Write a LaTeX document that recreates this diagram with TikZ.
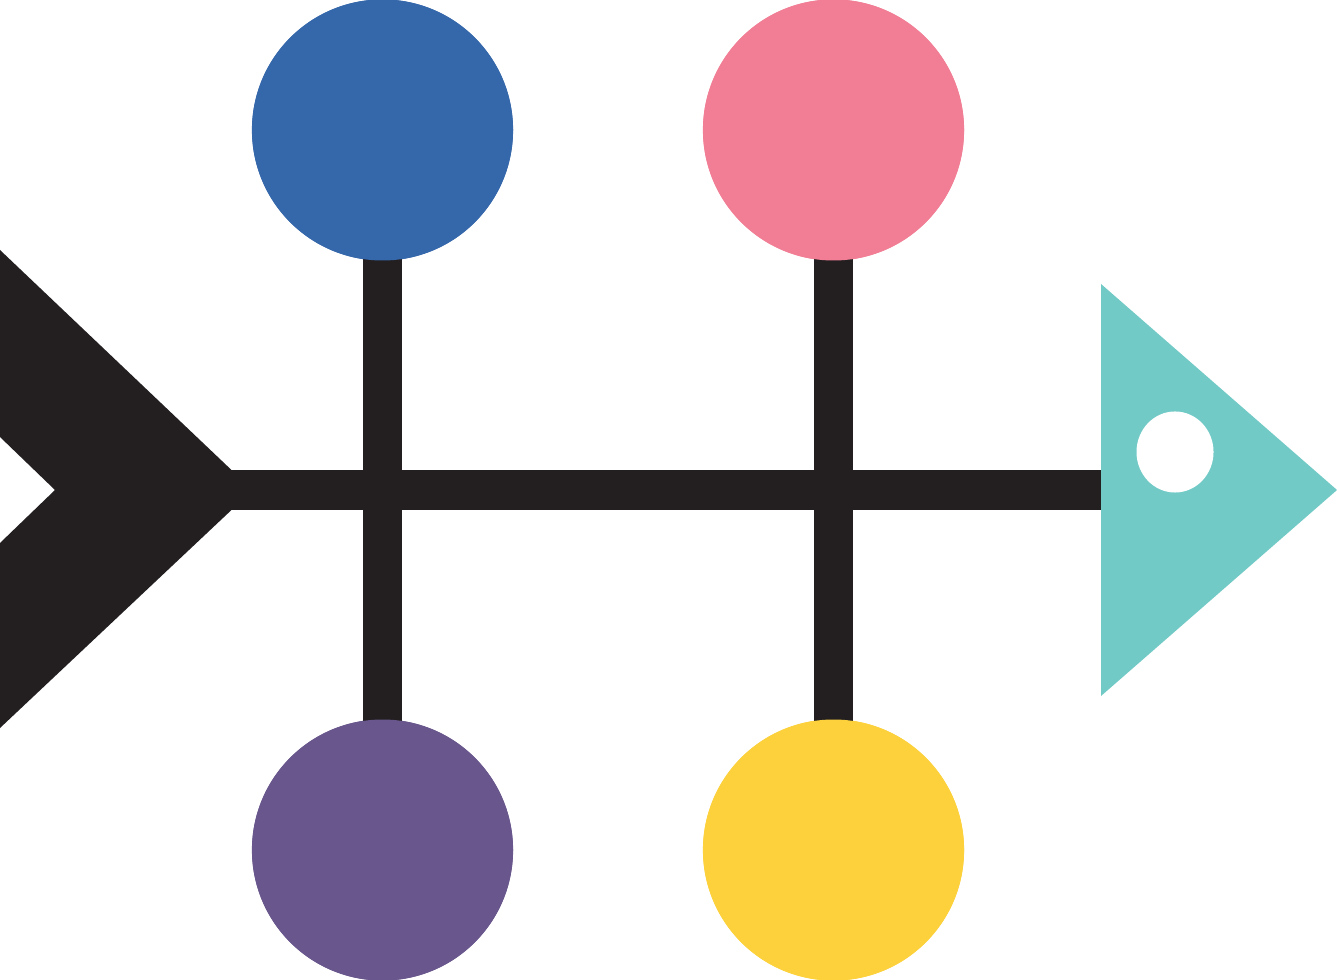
\documentclass[tikz,border=0pt]{standalone}
\usetikzlibrary{shapes.geometric}
\definecolor{bonecol}{HTML}{231F20}
\definecolor{bluec}{HTML}{3567AB}
\definecolor{pinkc}{HTML}{F27E95}
\definecolor{purplec}{HTML}{68568C}
\definecolor{yellowc}{HTML}{FCD13B}
\definecolor{tealc}{HTML}{72CAC7}
\tikzset{
  ball/.style={circle, minimum size=2.61cm, inner sep=0pt, draw=none},
  bone/.style={draw=bonecol, line width=0.39cm},
}
\begin{document}
\begin{tikzpicture}[x=0.01cm, y=-0.01cm]
\useasboundingbox[fill=white] (0,0) rectangle (1337,980);
% tail
\fill[bonecol] (0,250) -- (232,470.5) -- (232,509.5) -- (0,728) -- (0,543) -- (55,490) -- (0,437) -- cycle;
% spine
\coordinate (tail) at (230,490);
\node[ball, fill=bluec] (c1) at (382.5,130) {};
\node[ball, fill=pinkc] (c2) at (833.5,130) {};
\node[ball, fill=purplec] (c3) at (382.5,850) {};
\node[ball, fill=yellowc] (c4) at (833.5,850) {};
\coordinate (headbase) at (1101,490);
\draw[bone] (c1.center) -- (c3.center);
\draw[bone] (c2.center) -- (c4.center);
\fill[bluec] (c1) circle (130.5);
\fill[pinkc] (c2) circle (130.5);
\fill[purplec] (c3) circle (130.5);
\fill[yellowc] (c4) circle (130.5);
\draw[bone] (tail) -- (headbase);
% head
\fill[tealc] (1101,284) -- (1337,490) -- (1101,696) -- cycle;
\node[ellipse, fill=white, draw=none, minimum width=0.77cm, minimum height=0.81cm, inner sep=0pt] (eye) at (1175,452) {};
\end{tikzpicture}
\end{document}
